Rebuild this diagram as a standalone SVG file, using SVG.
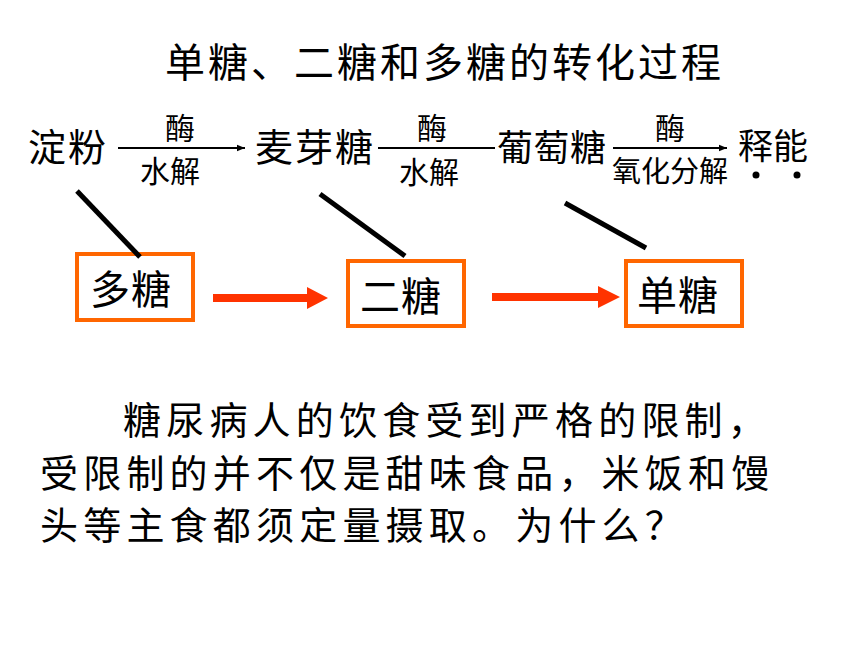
<svg xmlns="http://www.w3.org/2000/svg" width="860" height="645" viewBox="0 0 860 645">
<style>
text{font-family:"Noto Sans CJK SC","Noto Sans CJK TC",sans-serif;fill:#000}
.t{font-size:40px;letter-spacing:3px}
.b{font-size:38px;letter-spacing:5.2px}
.m{font-size:38px;letter-spacing:2px}
.s{font-size:30px}
.box{fill:#fff;stroke:#ff6600;stroke-width:4}
.bt{font-size:40px;letter-spacing:1px}
.thin{stroke:#000;stroke-width:2;fill:none}
.blk{stroke:#000;stroke-width:5;fill:none}
.red{fill:#ff3300}
</style>
<defs>
<marker id="ah" viewBox="0 0 10 10" refX="10" refY="5" markerWidth="8" markerHeight="8" markerUnits="userSpaceOnUse" orient="auto">
<path d="M0,1 L10,5 L0,9 z" fill="#000"/>
</marker>
</defs>
<rect width="860" height="645" fill="#fff"/>
<g id="title"><text class="t" x="165" y="77">单糖、二糖和多糖的转化过程</text></g>
<g id="starch"><text class="m" x="28" y="161">淀粉</text></g>
<g id="maltose"><text class="m" x="255" y="161">麦芽糖</text></g>
<g id="glucose"><text style="font-size:36px;letter-spacing:0.5px" x="497" y="161">葡萄糖</text></g>
<g id="energy"><text style="font-size:35px" x="738" y="159">释能</text>
<circle cx="756" cy="175" r="3.5" fill="#000"/><circle cx="797" cy="175" r="3.5" fill="#000"/></g>
<g id="labels">
<text class="s" x="165" y="139">酶</text>
<text class="s" x="140" y="182">水解</text>
<text class="s" x="417" y="139">酶</text>
<text class="s" x="399" y="183">水解</text>
<text class="s" x="655" y="139">酶</text>
<text style="font-size:29px" x="612" y="182">氧化分解</text>
</g>
<g id="box-poly"><rect class="box" x="77" y="254" width="116" height="66"/><text class="bt" x="90" y="304">多糖</text></g>
<g id="box-di"><rect class="box" x="348" y="261" width="116" height="65"/><text class="bt" x="360" y="311">二糖</text></g>
<g id="box-mono"><rect class="box" x="626" y="261" width="116" height="65"/><text class="bt" x="637" y="310">单糖</text></g>
<g id="connectors">
<line class="thin" x1="118" y1="148" x2="245" y2="148" marker-end="url(#ah)"/>
<line class="thin" x1="378" y1="148" x2="495" y2="148"/>
<line class="thin" x1="613" y1="148" x2="727" y2="148" marker-end="url(#ah)"/>
<line class="blk" x1="77" y1="191" x2="140" y2="257"/>
<line class="blk" x1="320" y1="194" x2="405" y2="256"/>
<line class="blk" x1="565" y1="203" x2="646" y2="248"/>
<path class="red" d="M213,294 H307 V287 L328,298 L307,309 V302 H213 z"/>
<path class="red" d="M492,293 H598 V286 L620,297 L598,308 V301 H492 z"/>
</g>
<g id="question">
<text class="b" x="123" y="434">糖尿病人的饮食受到严格的限制，</text>
<text class="b" x="40" y="487">受限制的并不仅是甜味食品，米饭和馒</text>
<text class="b" x="40" y="539">头等主食都须定量摄取。为什么？</text>
</g>
</svg>
